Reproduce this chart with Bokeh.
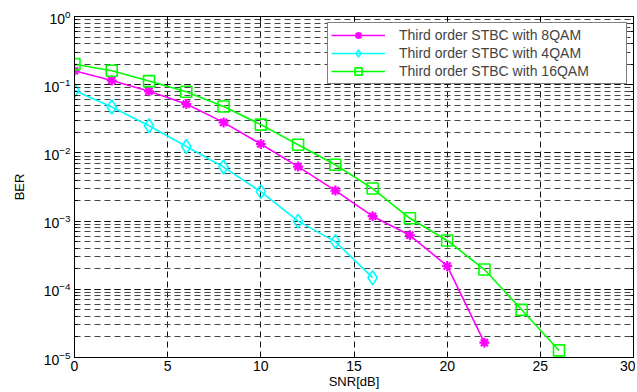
from bokeh.plotting import figure
from bokeh.models import LogAxis, LinearAxis, Legend, LegendItem, FixedTicker, Range1d
from bokeh.embed import file_html
from bokeh.resources import INLINE

# ---- data ----
snr_8qam = [0, 2, 4, 6, 8, 10, 12, 14, 16, 18, 20, 22]
ber_8qam = [0.16, 0.115, 0.080, 0.052, 0.028, 0.0135, 0.0063, 0.0028, 0.00118, 0.00062, 0.00022, 1.65e-5]

snr_4qam = [0, 2, 4, 6, 8, 10, 12, 14, 16]
ber_4qam = [0.082, 0.047, 0.025, 0.0124, 0.0062, 0.0027, 0.001, 0.0005, 0.000148]

snr_16qam = [0, 2, 4, 6, 8, 10, 12, 14, 16, 18, 20, 22, 24, 26]
ber_16qam = [0.2, 0.16, 0.113, 0.079, 0.048, 0.026, 0.0132, 0.0067, 0.003, 0.0011, 0.00052, 0.000195, 5e-5, 1.27e-5]

x_ticks = [0, 5, 10, 15, 20, 25, 30]

labels = ["Third order STBC with 8QAM", "Third order STBC with 4QAM", "Third order STBC with 16QAM"]

FONT = "Liberation Sans"

p = figure(width=635, height=392, y_axis_type="log",
           x_range=Range1d(0, 30), y_range=Range1d(1e-5, 1),
           output_backend="svg", toolbar_location=None,
           min_border_left=74, min_border_right=2, min_border_top=16, min_border_bottom=35)
p.background_fill_color = "white"
p.border_fill_color = "white"
p.outline_line_color = "black"
p.outline_line_width = 1

# grid
dash = "6 4"
p.xgrid.ticker = FixedTicker(ticks=x_ticks)
p.xgrid.grid_line_color = "#111111"
p.xgrid.grid_line_dash = dash
p.xgrid.grid_line_width = 1
p.ygrid.grid_line_color = "#111111"
p.ygrid.grid_line_dash = dash
p.ygrid.minor_grid_line_color = "#444444"
p.ygrid.minor_grid_line_dash = dash
p.ygrid.minor_grid_line_width = 1

# axes
p.xaxis.ticker = FixedTicker(ticks=x_ticks)
for ax in [p.xaxis[0], p.yaxis[0]]:
    ax.major_tick_in = 5
    ax.major_tick_out = 0
    ax.minor_tick_in = 3
    ax.minor_tick_out = 0
    ax.axis_line_color = "black"
    ax.major_tick_line_color = "black"
    ax.minor_tick_line_color = "black"
    ax.major_label_text_font = FONT
    ax.major_label_text_font_size = "14px"
    ax.major_label_text_color = "black"
    ax.axis_label_text_font = FONT
    ax.axis_label_text_font_style = "normal"
    ax.axis_label_text_font_size = "13px"
    ax.axis_label_text_color = "black"
p.xaxis.axis_label = "SNR[dB]"
p.yaxis.axis_label = "BER"
p.xaxis.axis_label_standoff = 0
p.xaxis.major_label_standoff = 3
p.yaxis.axis_label_standoff = 14
p.yaxis.major_label_standoff = 4
p.xaxis.minor_tick_line_color = None

# extra axes on top/right (ticks only)
top = LinearAxis(ticker=FixedTicker(ticks=x_ticks), major_tick_in=5, major_tick_out=0,
                 minor_tick_line_color=None, major_label_text_color=None,
                 major_label_text_font_size="1px",
                 axis_line_color="black", major_label_standoff=0)
right = LogAxis(major_tick_in=5, major_tick_out=0, minor_tick_in=3, minor_tick_out=0,
                major_label_text_color=None, major_label_text_font_size="1px",
                axis_line_color="black", major_label_standoff=0)
p.add_layout(top, "above")
p.add_layout(right, "right")

# series
r8l = p.line(snr_8qam, ber_8qam, line_color="#ff00ff", line_width=1.6)
r8m = p.scatter(snr_8qam, ber_8qam, marker="asterisk", size=10, line_color="#ff00ff", line_width=2.2)
r4l = p.line(snr_4qam, ber_4qam, line_color="#00ffff", line_width=1.6)
r4m = p.scatter(snr_4qam, ber_4qam, marker="diamond", size=14, line_color="#00ffff",
                fill_color=None, line_width=1.6)
r16l = p.line(snr_16qam, ber_16qam, line_color="#00ff00", line_width=1.6)
r16m = p.scatter(snr_16qam, ber_16qam, marker="square", size=11, line_color="#00ff00",
                 fill_color=None, line_width=1.6)

legend = Legend(items=[
    LegendItem(label=labels[0], renderers=[r8l, r8m]),
    LegendItem(label=labels[1], renderers=[r4l, r4m]),
    LegendItem(label=labels[2], renderers=[r16l, r16m]),
], location="top_right")
legend.margin = 6
legend.padding = 3
legend.spacing = 0
legend.glyph_width = 54
legend.glyph_height = 18
legend.label_height = 18
legend.label_width = 224
legend.label_standoff = 14
legend.label_text_font = FONT
legend.label_text_font_size = "14px"
legend.border_line_color = "black"
legend.border_line_width = 1
legend.background_fill_alpha = 1
p.add_layout(legend, "center")

open("out.html", "w").write(file_html(p, INLINE))
